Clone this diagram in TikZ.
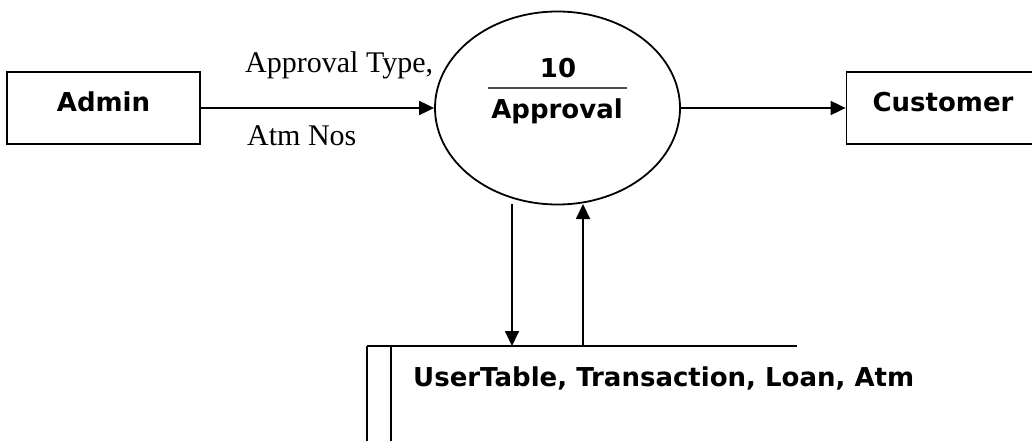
\documentclass[tikz,border=0pt]{standalone}
\usepackage{fontspec}
\setmainfont{Liberation Serif}
\newfontfamily\dfdsans{DejaVu Sans}
\usetikzlibrary{arrows.meta,shapes.geometric,positioning}
\tikzset{
  entity/.style={draw,rectangle,line width=1.8pt,minimum width=193pt,minimum height=72pt,
    inner sep=0pt,text height=19pt,text depth=11pt,font=\dfdsans\bfseries\fontsize{26pt}{30pt}\selectfont},
  process/.style={draw,ellipse,line width=1.8pt,minimum width=245pt,minimum height=193pt,inner sep=0pt},
  bold/.style={font=\dfdsans\bfseries\fontsize{26pt}{30pt}\selectfont,inner sep=0pt},
  flowtext/.style={font=\fontsize{30pt}{34pt}\selectfont,inner sep=0pt},
  flow/.style={line width=1.8pt,-{Triangle[length=15pt,width=14pt]}}
}

\begin{document}
\begin{tikzpicture}[x=1pt,y=-1pt]
                   \clip (0,0) rectangle (1032,441);
                   \node[entity] (admin) at (103.5,108) {Admin};
                   \node[process] (approval) at (557.5,108) {};
                   \node[entity] (customer) at (943,108) {Customer};
                   \node[bold,anchor=base] (pnum) at (558,78) {10};
                   \node[bold,anchor=base] (pname) at (557,118) {Approval};
                   \draw[line width=1.6pt,black!70] (488,88) -- (627,88);
                   % data store
                   \coordinate (st_a) at (367,346);
                   \coordinate (st_b) at (797,346);
                   \coordinate (st_c) at (391,346);
                   \coordinate (out_top) at (512,204);
                   \coordinate (out_bot) at (512,346);
                   \coordinate (in_bot) at (583,346);
                   \coordinate (in_top) at (583,204);
                   \draw[line width=1.8pt] (st_a) -- (st_b);
                   \draw[line width=1.8pt] (st_a) -- (367,441);
                   \draw[line width=1.8pt] (st_c) -- (391,441);
                   \node[bold,anchor=base west] (store) at (413,386) {UserTable, Transaction, Loan, Atm};
                   % flows
                   \draw[flow] (admin.east) -- (approval.west);
                   \node[flowtext,anchor=base west] (lbl_type) at (245,73) {Approval Type,};
                   \node[flowtext,anchor=base west] (lbl_nos) at (247,145) {Atm Nos};
                   \draw[flow] (approval.east) -- (customer.west);
                   \draw[flow] (out_top) -- (out_bot);
                   \draw[flow] (in_bot) -- (in_top);
                \end{tikzpicture}
\end{document}
